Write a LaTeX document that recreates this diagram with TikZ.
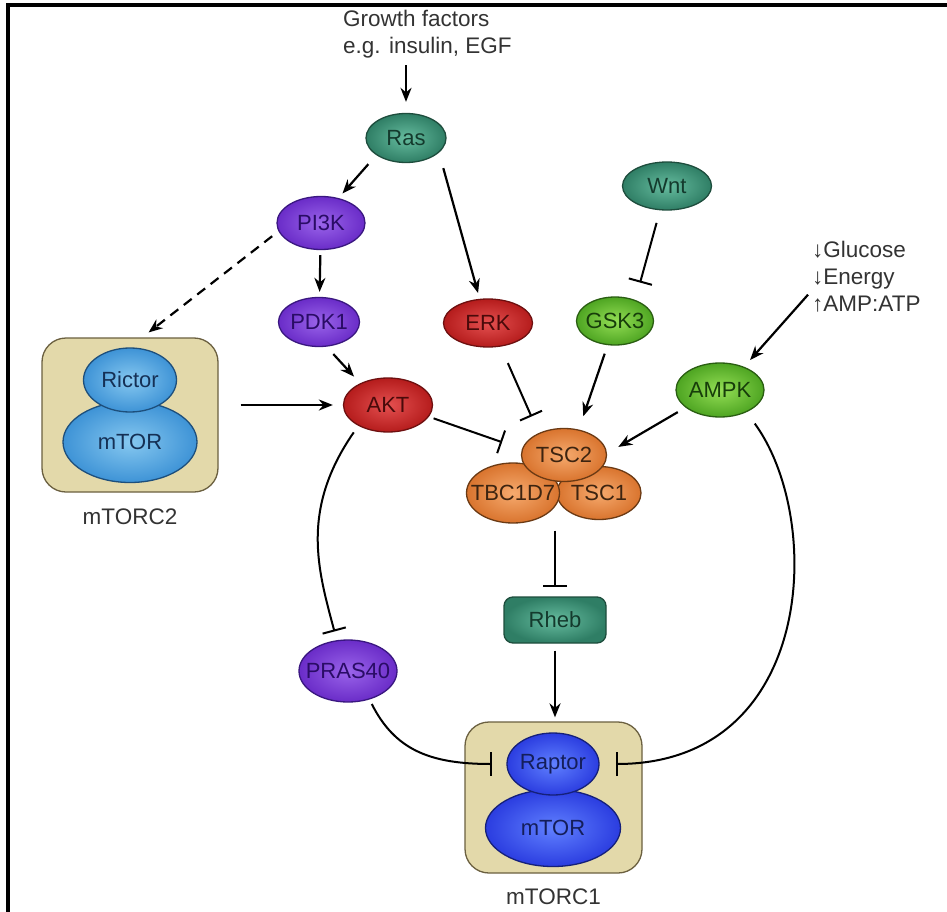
\documentclass[tikz,border=0pt]{standalone}
\usepackage{fontspec}
\setmainfont{Liberation Sans}
\usetikzlibrary{%
    arrows.meta,
    positioning,
    shapes.geometric
}
\definecolor{gtin}{HTML}{66BC9F}
\definecolor{gtout}{HTML}{2F7E65}
\definecolor{gtdk}{HTML}{1E4D3D}
\definecolor{gttx}{HTML}{143A2D}
\definecolor{lkin}{HTML}{9A64EA}
\definecolor{lkout}{HTML}{6A2CC8}
\definecolor{lkdk}{HTML}{3A1780}
\definecolor{lktx}{HTML}{2A0C66}
\definecolor{rdin}{HTML}{E45050}
\definecolor{rdout}{HTML}{B51C1C}
\definecolor{rddk}{HTML}{6E1010}
\definecolor{rdtx}{HTML}{4A0A0A}
\definecolor{gnin}{HTML}{94DE55}
\definecolor{gnout}{HTML}{4EA522}
\definecolor{gndk}{HTML}{2A5E12}
\definecolor{gntx}{HTML}{173D0A}
\definecolor{tsin}{HTML}{F6AA6E}
\definecolor{tsout}{HTML}{D9742E}
\definecolor{tsdk}{HTML}{6B3A14}
\definecolor{tstx}{HTML}{3D2410}
\definecolor{c2in}{HTML}{86C8F0}
\definecolor{c2out}{HTML}{3E93D6}
\definecolor{c2dk}{HTML}{1D4F7C}
\definecolor{c2tx}{HTML}{153055}
\definecolor{c1in}{HTML}{6080FF}
\definecolor{c1out}{HTML}{2B3DE0}
\definecolor{c1dk}{HTML}{15207A}
\definecolor{c1tx}{HTML}{141E5A}
\definecolor{boxfill}{HTML}{E3D9AA}
\definecolor{boxdk}{HTML}{6B6040}
\definecolor{txgray}{HTML}{333333}
\tikzset{act/.style = {-{Stealth[length=14pt,width=11pt]}, line width=2.2pt}}
\tikzset{inh/.style = {-{Bar[width=24pt]}, line width=2pt}}
\tikzset{prot/.style = {ellipse, draw, line width=1.3pt, inner sep=0pt,
    font=\fontsize{22}{26}\selectfont}}
\tikzset{gtpase/.style = {prot, inner color=gtin, outer color=gtout, draw=gtdk, text=gttx}}
\tikzset{lipkin/.style = {prot, inner color=lkin, outer color=lkout, draw=lkdk, text=lktx}}
\tikzset{redkin/.style = {prot, inner color=rdin, outer color=rdout, draw=rddk, text=rdtx}}
\tikzset{grnkin/.style = {prot, inner color=gnin, outer color=gnout, draw=gndk, text=gntx}}
\tikzset{tscx/.style = {prot, inner color=tsin, outer color=tsout, draw=tsdk, text=tstx}}
\tikzset{ctwo/.style = {prot, inner color=c2in, outer color=c2out, draw=c2dk, text=c2tx}}
\tikzset{cone/.style = {prot, inner color=c1in, outer color=c1out, draw=c1dk, text=c1tx}}
\tikzset{cplx/.style = {rectangle, rounded corners=24pt, draw=boxdk, fill=boxfill, line width=1.3pt}}
\tikzset{freetext/.style = {font=\fontsize{22.5}{27}\selectfont, text=txgray, inner sep=0pt}}
\newcommand{\lbl}[1]{\makebox[0pt]{#1}}

\begin{document}
\begin{tikzpicture}[x=1pt, y=-1pt]
    \useasboundingbox (0,0) rectangle (947,912);
    \fill[white] (0,0) rectangle (947,912);
    \draw[line width=4pt] (8,912) -- (8,5.5) -- (947,5.5);

    \node[freetext, align=left, anchor=north west] (gf) at (343,10) {Growth factors\\e.g. insulin, EGF};
    \node[freetext, align=left, anchor=north west] (glc) at (812,241) {↓Glucose\\↓Energy\\↑AMP:ATP};

    \node[gtpase, minimum width=80pt, minimum height=49pt] (Ras) at (406,138) {\lbl{Ras}};
    \node[gtpase, minimum width=89pt, minimum height=48pt] (Wnt) at (667,186) {\lbl{Wnt}};
    \node[gtpase, rectangle, rounded corners=9pt, minimum width=102pt, minimum height=46pt] (Rheb) at (555,620) {\lbl{Rheb}};
    \node[lipkin, minimum width=88pt, minimum height=53pt] (PI3K) at (321,223) {\lbl{PI3K}};
    \node[lipkin, minimum width=81pt, minimum height=49pt] (PDK1) at (319,322) {\lbl{PDK1}};
    \node[lipkin, minimum width=98pt, minimum height=62pt] (PRAS40) at (348,671) {\lbl{PRAS40}};
    \node[redkin, minimum width=89pt, minimum height=54pt] (AKT) at (388,405) {\lbl{AKT}};
    \node[redkin, minimum width=89pt, minimum height=48pt] (ERK) at (488,323) {\lbl{ERK}};
    \node[grnkin, minimum width=77pt, minimum height=48pt] (GSK3) at (615,321) {\lbl{GSK3}};
    \node[grnkin, minimum width=88pt, minimum height=54pt] (AMPK) at (720,390) {\lbl{AMPK}};
    \node[tscx, minimum width=84pt, minimum height=53pt] (TSC1) at (599,493) {\lbl{TSC1}};
    \node[tscx, minimum width=93pt, minimum height=60pt] (TBC1D7) at (513,493) {\lbl{TBC1D7}};
    \node[tscx, minimum width=85pt, minimum height=53pt] (TSC2) at (564,455) {\lbl{TSC2}};

    \node[cplx, minimum width=176pt, minimum height=154pt] (C2) at (130,415) {};
    \node[ctwo, minimum width=134pt, minimum height=81pt] (mTORb) at (130,442) {\lbl{mTOR}};
    \node[ctwo, minimum width=93pt, minimum height=64pt] (Rictor) at (130,380) {\lbl{Rictor}};
    \node[freetext, below=16pt of C2] (lC2) {mTORC2};

    \node[cplx, minimum width=177pt, minimum height=151pt] (C1) at (553.5,797.5) {};
    \node[cone, minimum width=135pt, minimum height=77pt] (mTORa) at (553,828) {\lbl{mTOR}};
    \node[cone, minimum width=92pt, minimum height=62pt] (Raptor) at (553,764) {\lbl{Raptor}};
    \node[freetext, below=15pt of C1] (lC1) {mTORC1};

    \draw[act, shorten <=7pt, shorten >=11pt] (gf.south -| Ras.north) -- (Ras.north);
    \draw[act, shorten <=12pt, shorten >=6pt] (Ras.210) -- (PI3K.55);
    \draw[act, shorten <=16pt, shorten >=6pt] (Ras.336) -- (ERK.109);
    \draw[act, shorten <=5pt, shorten >=5pt] (PI3K) -- (PDK1);
    \draw[act, dashed, dash pattern=on 10pt off 7pt, shorten <=8pt, shorten >=8pt] (PI3K.191) -- (C2.81);
    \draw[act, shorten <=10pt, shorten >=9pt] (PDK1.287) -- (AKT.142);
    \draw[act, shorten <=22pt, shorten >=10pt] (C2.east |- AKT.west) -- (AKT.west);
    \draw[inh, shorten <=13pt, shorten >=18pt] (Wnt.254) -- (GSK3.46);
    \draw[act, shorten <=9pt, shorten >=14pt] (GSK3.253) -- (TSC2.60);
    \draw[inh, shorten <=18pt, shorten >=18pt] (ERK.298) -- (TSC2.139);
    \draw[inh, shorten <=5pt, shorten >=21pt] (AKT.344) -- (TSC2.172);
    \draw[act, shorten <=9pt, shorten >=13pt] (AMPK.207) -- (TSC2.2);
    \draw[act, shorten >=9pt] ([xshift=-4pt, yshift=-18pt]glc.west) -- (AMPK.44);
    \draw[inh, shorten <=7pt, shorten >=9pt] (Rheb.north |- TBC1D7.south) -- (Rheb.north);
    \draw[act, shorten <=7pt, shorten >=4pt] (Rheb.south) -- (Rheb.south |- C1.north);
    \draw[inh, shorten <=8pt, shorten >=9pt] (AKT.215) .. controls (300,510) and (318,570) .. (PRAS40.110);
    \draw[inh, shorten <=5pt, shorten >=14pt] (PRAS40.307) .. controls (395,750) and (430,764) .. (Raptor.west);
    \draw[inh, shorten <=14pt, shorten >=16pt] (AMPK.320) .. controls (825,520) and (815,764) .. (Raptor.east);
\end{tikzpicture}
\end{document}
